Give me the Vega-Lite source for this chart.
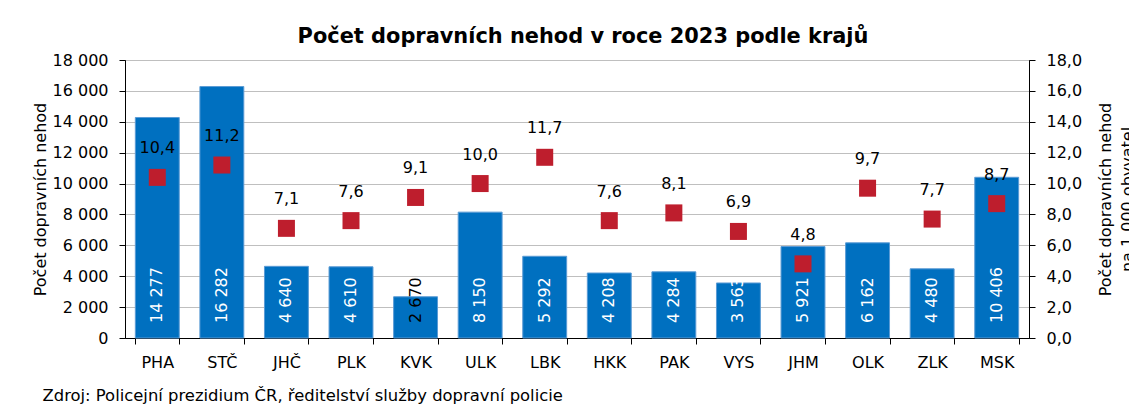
{
  "$schema": "https://vega.github.io/schema/vega-lite/v6.json",
  "width": 904,
  "height": 278,
  "autosize": "none",
  "padding": {"left": 125, "top": 60, "right": 100, "bottom": 67},
  "background": "white",
  "config": {
    "locale": {"number": {"decimal": ",", "thousands": " ", "grouping": [3], "currency": ["", ""]}},
    "font": "DejaVu Sans",
    "view": {"stroke": "black", "strokeWidth": 1},
    "axis": {
      "labelFont": "DejaVu Sans", "labelFontSize": 16, "labelColor": "black",
      "titleFont": "DejaVu Sans", "titleFontSize": 16, "titleFontWeight": "normal", "titleColor": "black",
      "domainColor": "black", "tickColor": "black", "gridColor": "#BFBFBF", "tickSize": 6, "labelOverlap": false
    }
  },
  "title": {
    "text": "Počet dopravních nehod v roce 2023 podle krajů",
    "font": "DejaVu Sans", "fontSize": 20.9, "fontWeight": "bold", "color": "black",
    "anchor": "middle", "baseline": "alphabetic", "offset": -12, "dx": 6
  },
  "data": {"values": [
    {"kraj": "PHA", "nehody": 14277, "na1000": 10.4},
    {"kraj": "STČ", "nehody": 16282, "na1000": 11.2},
    {"kraj": "JHČ", "nehody": 4640, "na1000": 7.1},
    {"kraj": "PLK", "nehody": 4610, "na1000": 7.6},
    {"kraj": "KVK", "nehody": 2670, "na1000": 9.1},
    {"kraj": "ULK", "nehody": 8150, "na1000": 10.0},
    {"kraj": "LBK", "nehody": 5292, "na1000": 11.7},
    {"kraj": "HKK", "nehody": 4208, "na1000": 7.6},
    {"kraj": "PAK", "nehody": 4284, "na1000": 8.1},
    {"kraj": "VYS", "nehody": 3563, "na1000": 6.9},
    {"kraj": "JHM", "nehody": 5921, "na1000": 4.8},
    {"kraj": "OLK", "nehody": 6162, "na1000": 9.7},
    {"kraj": "ZLK", "nehody": 4480, "na1000": 7.7},
    {"kraj": "MSK", "nehody": 10406, "na1000": 8.7}
  ]},
  "encoding": {
    "x": {
      "field": "kraj", "type": "nominal", "sort": null,
      "scale": {"paddingInner": 0.32, "paddingOuter": 0.16},
      "axis": {
        "labelAngle": 0, "tickBand": "extent", "labelPadding": 10, "grid": false,
        "title": "Zdroj: Policejní prezidium ČR, ředitelství služby dopravní policie",
        "titleFontSize": 16.4,
        "titleAnchor": "start", "titleX": -83, "titleY": 62, "titleBaseline": "alphabetic", "titleAlign": "left"
      }
    }
  },
  "layer": [
    {
      "layer": [
        {
          "mark": {"type": "bar", "color": "#0070C0", "stroke": "#5B9BD5", "strokeWidth": 1},
          "encoding": {
            "y": {
              "field": "nehody", "type": "quantitative",
              "scale": {"domain": [0, 18000], "nice": false},
              "axis": {
                "orient": "left", "grid": true, "values": [0, 2000, 4000, 6000, 8000, 10000, 12000, 14000, 16000, 18000],
                "format": ",d", "labelPadding": 11, "title": "Počet dopravních nehod", "titlePadding": 4
              }
            }
          }
        },
        {
          "mark": {"type": "text", "angle": 270, "align": "left", "baseline": "middle", "dx": 15, "fontSize": 16, "font": "DejaVu Sans"},
          "encoding": {
            "y": {
              "datum": 0, "type": "quantitative",
              "axis": {
                "orient": "left", "grid": true, "values": [0, 2000, 4000, 6000, 8000, 10000, 12000, 14000, 16000, 18000],
                "format": ",d", "labelPadding": 11, "title": "Počet dopravních nehod", "titlePadding": 4
              }
            },
            "text": {"field": "nehody", "type": "quantitative", "format": ",d"},
            "color": {"condition": {"test": "datum.nehody < 3000", "value": "black"}, "value": "white"}
          }
        }
      ]
    },
    {
      "layer": [
        {
          "mark": {"type": "square", "size": 289, "color": "#BE1E2D", "opacity": 1, "filled": true},
          "encoding": {
            "y": {
              "field": "na1000", "type": "quantitative",
              "scale": {"domain": [0, 18], "nice": false},
              "axis": {
                "orient": "right", "grid": false, "values": [0, 2, 4, 6, 8, 10, 12, 14, 16, 18],
                "format": ".1f", "labelPadding": 11,
                "title": ["Počet dopravních nehod", "na 1 000 obyvatel"], "titleAngle": 270, "titlePadding": 10, "titleLineHeight": 22
              }
            }
          }
        },
        {
          "mark": {"type": "text", "baseline": "middle", "dy": -29, "fontSize": 16, "color": "black", "font": "DejaVu Sans"},
          "encoding": {
            "y": {
              "field": "na1000", "type": "quantitative",
              "axis": {
                "orient": "right", "grid": false, "values": [0, 2, 4, 6, 8, 10, 12, 14, 16, 18],
                "format": ".1f", "labelPadding": 11,
                "title": ["Počet dopravních nehod", "na 1 000 obyvatel"], "titleAngle": 270, "titlePadding": 10, "titleLineHeight": 22
              }
            },
            "text": {"field": "na1000", "type": "quantitative", "format": ".1f"}
          }
        }
      ]
    }
  ],
  "resolve": {"scale": {"y": "independent"}}
}
